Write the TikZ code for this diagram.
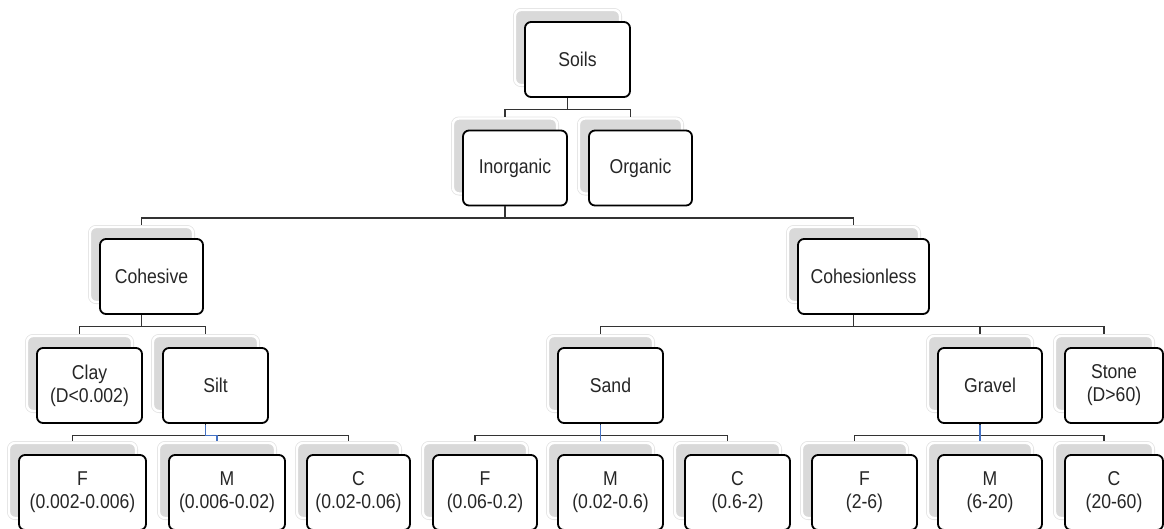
\documentclass[tikz,border=0pt]{standalone}
\usepackage{fontspec}
\setmainfont[FakeStretch=0.88]{Liberation Sans}
\usetikzlibrary{shadows,calc}

\newcommand\lblfont{\fontsize{20}{23}\selectfont}
\definecolor{linkblue}{RGB}{68,114,196}

\tikzset{
  soilbox/.style={
    draw=black, line width=1.8pt, rounded corners=6pt, fill=white,
    inner sep=0pt, minimum height=75pt, minimum width=#1,
    align=center, text=black!85, font=\lblfont,
    general shadow={draw=black!11, line width=4pt, fill=none,
      shadow xshift=-10pt, shadow yshift=12pt},
    general shadow={draw=white, line width=2.4pt, fill=black!15,
      shadow xshift=-10pt, shadow yshift=12pt}
  },
  soilbox/.default=105pt,
  conn/.style={draw=black!80, line width=1.2pt},
  midconn/.style={draw=linkblue, line width=1.6pt}
}

\begin{document}
\begin{tikzpicture}[x=1pt, y=-1pt]
  \useasboundingbox (0,0) rectangle (1164,528);
  \clip (0,0) rectangle (1164,528);

  % level 0 and 1
  \node[soilbox] (soils) at (577.5,59.5) {Soils};
  \node[soilbox=104pt] (inorg) at (515,168) {Inorganic};
  \node[soilbox=103pt] (org) at (640.5,168) {Organic};

  % level 2
  \node[soilbox=103pt] (coh) at (151.5,276.5) {Cohesive};
  \node[soilbox=131pt] (cohl) at (863.5,276.5) {Cohesionless};

  % level 3
  \node[soilbox] (clay) at (89.5,385.5) {Clay\\(D<0.002)};
  \node[soilbox] (silt) at (215.5,385.5) {Silt};
  \node[soilbox] (sand) at (610.5,385.5) {Sand};
  \node[soilbox=104pt] (gravel) at (990,385.5) {Gravel};
  \node[soilbox=98pt] (stone) at (1114,385.5) {Stone\\(D>60)};

  % size fractions
  \node[soilbox=127pt] (siltF) at (82.5,492.5) {F\\(0.002-0.006)};
  \node[soilbox=116pt] (siltM) at (227,492.5) {M\\(0.006-0.02)};
  \node[soilbox=103pt] (siltC) at (358.5,492.5) {C\\(0.02-0.06)};
  \node[soilbox=104pt] (sandF) at (485,492.5) {F\\(0.06-0.2)};
  \node[soilbox] (sandM) at (610.5,492.5) {M\\(0.02-0.6)};
  \node[soilbox] (sandC) at (737.5,492.5) {C\\(0.6-2)};
  \node[soilbox] (gravF) at (864.5,492.5) {F\\(2-6)};
  \node[soilbox=104pt] (gravM) at (990,492.5) {M\\(6-20)};
  \node[soilbox=98pt] (gravC) at (1114,492.5) {C\\(20-60)};

  % elbow connectors, parent bottom to child shadow top
  \foreach \p/\c in {soils/inorg, soils/org, inorg/coh, inorg/cohl,
                     coh/clay, coh/silt, cohl/sand, cohl/gravel, cohl/stone,
                     silt/siltF, silt/siltM, silt/siltC,
                     sand/sandF, sand/sandM, sand/sandC,
                     gravel/gravF, gravel/gravM, gravel/gravC}
    \draw[conn] ($(\p.south)+(-10pt,0pt)$) -- ++(0pt,-11.5pt)
      -| ($(\c.north)+(-10pt,13pt)$);

  % highlighted links to the middle fractions
  \foreach \p/\c in {silt/siltM, sand/sandM, gravel/gravM}
    \draw[midconn] ($(\p.south)+(-10pt,-0.9pt)$) -- ++(0pt,-10.8pt)
      -| ($(\c.north)+(-10pt,13pt)$);
\end{tikzpicture}
\end{document}
